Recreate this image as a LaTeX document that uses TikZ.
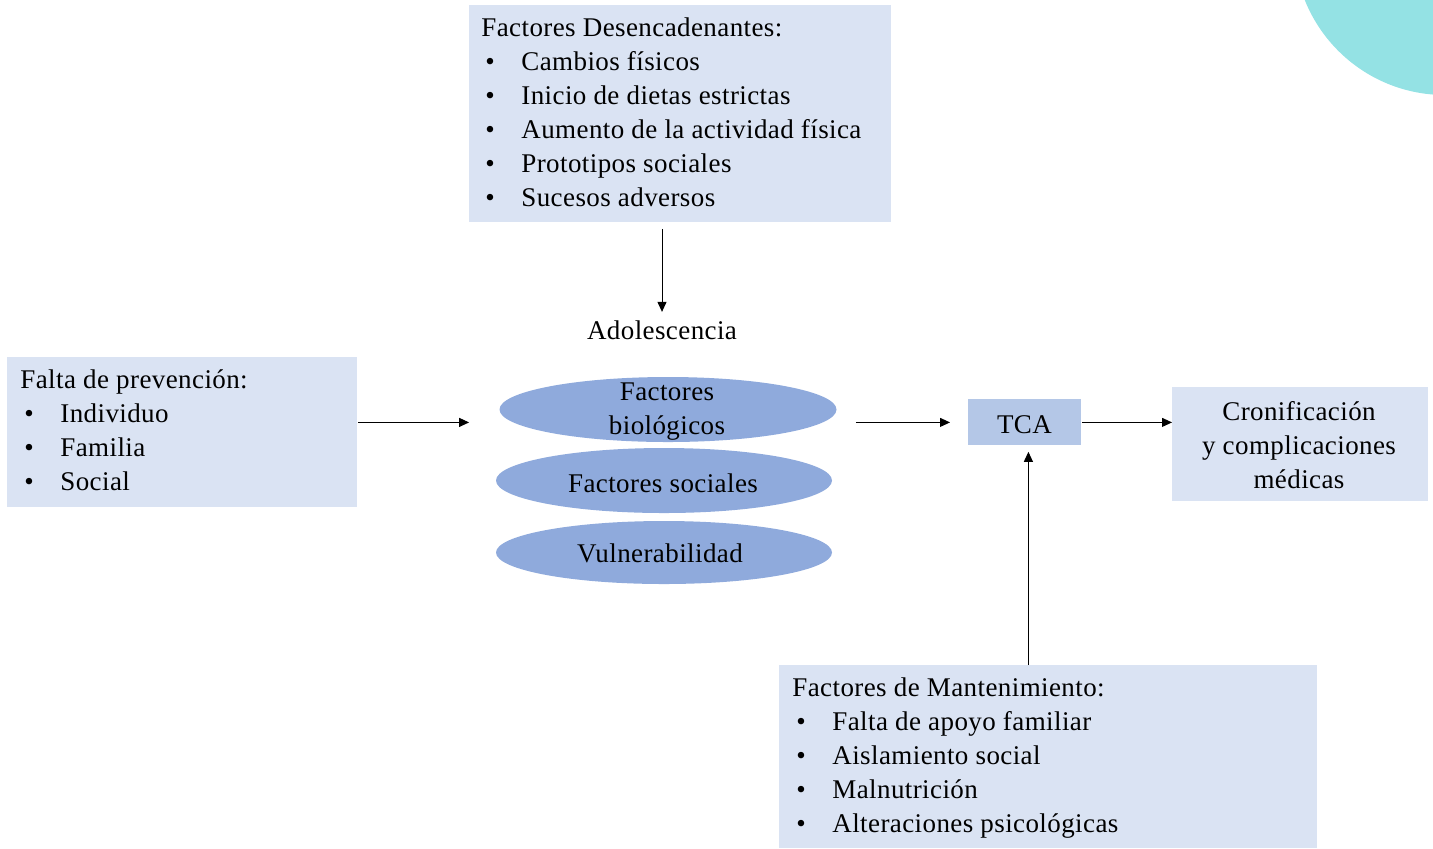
\documentclass[tikz,border=0pt]{standalone}
\usepackage{fontspec}
\setmainfont{Liberation Serif}[LetterSpace=1.5]
\usetikzlibrary{shapes.geometric,arrows.meta}

\definecolor{boxfill}{HTML}{DAE3F3}
\definecolor{tcafill}{HTML}{B4C7E7}
\definecolor{ellfill}{HTML}{8FAADC}
\definecolor{blob}{HTML}{94E2E4}

% one bulleted line of a list
\newcommand\itm[1]{\hbox{\hspace{2pt}\makebox[18pt][l]{\textbullet}#1}}

\tikzset{
  panel/.style={rectangle, fill=boxfill, inner sep=0pt, anchor=north west},
  oval/.style={ellipse, fill=ellfill, inner sep=0pt},
  txt/.style={inner sep=0pt},
  arr/.style={draw=black, line width=0.5pt, -{Triangle[length=5pt,width=4.5pt]}},
}

\begin{document}
\begin{tikzpicture}[x=0.5pt, y=-0.5pt, font=\fontsize{13.5}{17}\selectfont]
\useasboundingbox (0,0) rectangle (1433,848);
\clip (0,0) rectangle (1433,848);

% decorative disc in the corner
\fill[blob] (1445,-56) circle [radius=75.5pt];

% boxes
\node[panel, minimum width=211pt, minimum height=108.5pt] (topBox) at (469,5) {};
\node[panel, minimum width=175pt, minimum height=75pt] (leftBox) at (7,357) {};
\node[panel, minimum width=128pt, minimum height=57pt] (rightBox) at (1172,387) {};
\node[panel, minimum width=269pt, minimum height=91.5pt] (botBox) at (779,665) {};
\node[panel, fill=tcafill, minimum width=56.5pt, minimum height=23pt] (tca) at (968,399) {};
\node[txt, anchor=base] (tcaT) at (1024.5,433) {TCA};

% box texts
\node[txt, anchor=base west] (topT) at (481,36) {\vtop{%
  \hbox{Factores Desencadenantes:}
  \itm{Cambios físicos}
  \itm{Inicio de dietas estrictas}
  \itm{Aumento de la actividad física}
  \itm{Prototipos sociales}
  \itm{Sucesos adversos}}};

\node[txt, anchor=base west] (leftT) at (20,388) {\vtop{%
  \hbox{Falta de prevención:}
  \itm{Individuo}
  \itm{Familia}
  \itm{Social}}};

\node[txt, anchor=base west] (botT) at (792,696) {\vtop{%
  \hbox{Factores de Mantenimiento:}
  \itm{Falta de apoyo familiar}
  \itm{Aislamiento social}
  \itm{Malnutrición}
  \itm{Alteraciones psicológicas}}};

\node[txt, anchor=base] (rightT) at (1299,420) {\begin{tabular}[t]{@{}c@{}}Cronificación\\ y complicaciones\\ médicas\end{tabular}};

\node[txt, anchor=base] (adol) at (662,339) {Adolescencia};

% ellipses
\node[oval, minimum width=168.5pt, minimum height=32.5pt] (e1) at (668,409.5) {};
\node[oval, minimum width=168pt, minimum height=32.5pt] (e2) at (664,480.5) {};
\node[oval, minimum width=168pt, minimum height=31.5pt] (e3) at (664,552.5) {};
\node[txt, anchor=base] (e1T) at (667,400)
  {\begin{tabular}[t]{@{}c@{}}Factores\\ biológicos\end{tabular}};
\node[txt, anchor=base] (e2T) at (663,492) {Factores sociales};
\node[txt, anchor=base] (e3T) at (660,562) {Vulnerabilidad};

% connectors
\coordinate (tcaIn) at ([xshift=1.75pt]tca.south);
\draw[arr, shorten <=3pt, shorten >=4pt] (topBox.south -| adol.north) -- (adol.north);
\draw[arr, shorten >=15pt] (leftBox.east |- tca.west) -- (e1.west |- tca.west);
\draw[arr, shorten <=9.5pt, shorten >=9pt] (e1.east |- tca.west) -- (tca.west);
\draw[arr] (tca.east) -- (tca.east -| rightBox.west);
\draw[arr, shorten >=3pt] (botBox.north -| tcaIn) -- (tcaIn);
\end{tikzpicture}
\end{document}
